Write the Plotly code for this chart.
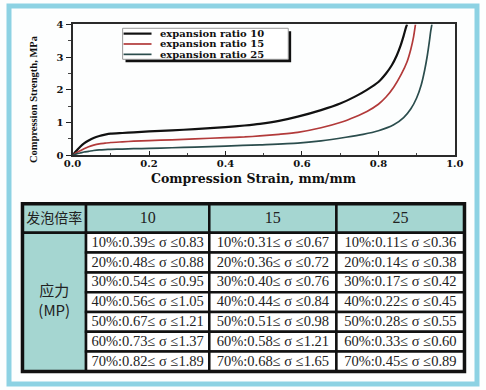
import plotly.graph_objects as go

# ---------------- data: chart ----------------
series_names = ["expansion ratio 10", "expansion ratio 15", "expansion ratio 25"]
series_colors = ["#111111", "#b23a3a", "#2b4d4d"]

strain_10 = [0, 0.005, 0.012, 0.02, 0.03, 0.042, 0.055, 0.07, 0.085, 0.10, 0.13, 0.16, 0.20, 0.26, 0.32, 0.40, 0.45,
             0.49, 0.54, 0.589, 0.65, 0.70, 0.74, 0.77, 0.80, 0.82, 0.835, 0.848, 0.858, 0.866, 0.872, 0.875]
stress_10 = [0, 0.07, 0.16, 0.26, 0.36, 0.45, 0.53, 0.59, 0.63, 0.66, 0.68, 0.70, 0.73, 0.76, 0.80, 0.86, 0.91,
             0.96, 1.05, 1.18, 1.38, 1.58, 1.80, 2.00, 2.24, 2.50, 2.75, 3.05, 3.35, 3.65, 3.90, 4.0]

strain_15 = [0, 0.005, 0.012, 0.02, 0.03, 0.042, 0.055, 0.07, 0.085, 0.10, 0.13, 0.16, 0.20, 0.26, 0.32, 0.40, 0.45,
             0.49, 0.54, 0.589, 0.65, 0.70, 0.74, 0.77, 0.80, 0.82, 0.84, 0.86, 0.875, 0.885, 0.892, 0.897]
stress_15 = [0, 0.04, 0.09, 0.14, 0.20, 0.26, 0.31, 0.35, 0.37, 0.39, 0.41, 0.43, 0.45, 0.47, 0.50, 0.54, 0.56,
             0.59, 0.64, 0.70, 0.84, 1.00, 1.18, 1.34, 1.56, 1.78, 2.08, 2.48, 2.86, 3.25, 3.62, 4.0]

strain_25 = [0, 0.005, 0.012, 0.02, 0.03, 0.042, 0.055, 0.07, 0.085, 0.10, 0.13, 0.16, 0.20, 0.26, 0.32, 0.40, 0.49,
             0.589, 0.65, 0.715, 0.76, 0.80, 0.84, 0.866, 0.885, 0.90, 0.912, 0.921, 0.928, 0.933, 0.937, 0.94]
stress_25 = [0, 0.02, 0.05, 0.07, 0.10, 0.12, 0.145, 0.165, 0.175, 0.18, 0.19, 0.20, 0.21, 0.23, 0.25, 0.28, 0.32,
             0.37, 0.44, 0.55, 0.64, 0.75, 0.93, 1.15, 1.42, 1.75, 2.15, 2.60, 3.05, 3.45, 3.80, 4.0]

x_ticks = [0, 0.2, 0.4, 0.6, 0.8, 1.0]
x_tick_labels = ["0.0", "0.2", "0.4", "0.6", "0.8", "1.0"]
y_ticks = [0, 1, 2, 3, 4]
y_tick_labels = ["0", "1", "2", "3", "4"]
x_title = "Compression Strain, mm/mm"
y_title = "Compression Strength, MPa"

# ---------------- data: table ----------------
table_header = ["发泡倍率", "10", "15", "25"]
row_label = "应力<br>(MP)"
percent_levels = ["10%", "20%", "30%", "40%", "50%", "60%", "70%"]
low_10 = [0.39, 0.48, 0.54, 0.56, 0.67, 0.73, 0.82]
high_10 = [0.83, 0.88, 0.95, 1.05, 1.21, 1.37, 1.89]
low_15 = [0.31, 0.36, 0.40, 0.44, 0.51, 0.58, 0.68]
high_15 = [0.67, 0.72, 0.76, 0.84, 0.98, 1.21, 1.65]
low_25 = [0.11, 0.14, 0.17, 0.22, 0.28, 0.33, 0.45]
high_25 = [0.36, 0.38, 0.42, 0.45, 0.55, 0.60, 0.89]

# ---------------- layout constants ----------------
W, H = 486, 390
PX0, PX1, PY0, PY1 = 66, 463, 19, 154  # chart plot area in pixels
TEAL = "#a5d6d1"
SERIF_B = "DejaVu Serif"
LINE_W = [2.2, 1.7, 1.7]

fig = go.Figure()

for xs, ys, name, col, lw in zip([strain_10, strain_15, strain_25],
                                 [stress_10, stress_15, stress_25],
                                 series_names, series_colors, LINE_W):
    fig.add_trace(go.Scatter(x=xs, y=ys, mode="lines", name=name,
                             line=dict(color=col, width=lw, shape="spline", smoothing=0.6),
                             hoverinfo="skip", showlegend=False, xaxis="x", yaxis="y"))

# ---------------- table (pixel-like axes x2/y2) ----------------
col_edges = [14, 80, 208, 340, 473]
row_edges = [204, 234] + [234 + 143 * i / 7 for i in range(1, 8)]
shapes = []


def rect(x0, y0, x1, y1, fill, lw=2.5, color="#111111", layer="below"):
    return dict(type="rect", xref="x2", yref="y2", x0=x0, y0=y0, x1=x1, y1=y1,
                fillcolor=fill, line=dict(color=color, width=lw), layer=layer)


for c in range(4):
    shapes.append(rect(col_edges[c], row_edges[0], col_edges[c + 1], row_edges[1], TEAL))
shapes.append(rect(col_edges[0], row_edges[1], col_edges[1], row_edges[-1], TEAL))
for c in range(1, 4):
    for r in range(1, 8):
        shapes.append(rect(col_edges[c], row_edges[r], col_edges[c + 1], row_edges[r + 1], "white"))
shapes.append(rect(col_edges[0], row_edges[0], col_edges[-1], row_edges[-1], "rgba(0,0,0,0)", lw=3.5))

col_centers = [(col_edges[i] + col_edges[i + 1]) / 2 for i in range(4)]
row_centers = [(row_edges[i] + row_edges[i + 1]) / 2 for i in range(8)]

fig.add_trace(go.Scatter(x=[col_centers[0]], y=[row_centers[0] + 1], text=[table_header[0]], mode="text",
                         textfont=dict(family="Noto Sans CJK SC", size=14, color="#222"),
                         xaxis="x2", yaxis="y2", hoverinfo="skip", showlegend=False))
fig.add_trace(go.Scatter(x=col_centers[1:], y=[row_centers[0] + 1] * 3, text=table_header[1:], mode="text",
                         textfont=dict(family="Liberation Serif", size=16, color="#222"),
                         xaxis="x2", yaxis="y2", hoverinfo="skip", showlegend=False))
fig.add_trace(go.Scatter(x=[col_centers[0]], y=[(row_edges[1] + row_edges[-1]) / 2], text=[row_label], mode="text",
                         textfont=dict(family="Noto Sans CJK SC", size=15, color="#222"),
                         xaxis="x2", yaxis="y2", hoverinfo="skip", showlegend=False))

cell_x, cell_y, cell_t = [], [], []
for c, (lows, highs) in enumerate([(low_10, high_10), (low_15, high_15), (low_25, high_25)], start=1):
    for r, (p, lo, hi) in enumerate(zip(percent_levels, lows, highs), start=1):
        cell_x.append(col_centers[c])
        cell_y.append(row_centers[r] + 0.5)
        cell_t.append(f"{p}:{lo:.2f}≤ σ ≤{hi:.2f}")
fig.add_trace(go.Scatter(x=cell_x, y=cell_y, text=cell_t, mode="text",
                         textfont=dict(family="Liberation Serif", size=14.5, color="#222"),
                         xaxis="x2", yaxis="y2", hoverinfo="skip", showlegend=False))

# ---------------- manual legend ----------------
LX0, LY0, LX1, LY1 = 118, 23, 290, 55
shapes.append(rect(LX0 + 3, LY0 + 3, LX1 + 3, LY1 + 3, "#111111", lw=0, layer="above"))
shapes.append(rect(LX0, LY0, LX1, LY1, "white", lw=1, color="#999999", layer="above"))
legend_rows = [28.5, 39.2, 49.9]
annotations = []
for name, col, ly, lw in zip(series_names, series_colors, legend_rows, LINE_W):
    shapes.append(dict(type="line", xref="x2", yref="y2", x0=LX0 + 1, x1=LX0 + 30, y0=ly, y1=ly,
                       line=dict(color=col, width=lw), layer="above"))
    annotations.append(dict(x=LX0 + 37, y=ly, xref="x2", yref="y2", text=name, showarrow=False,
                            xanchor="left", yanchor="middle",
                            font=dict(family=SERIF_B, size=10, color="#111", weight="bold")))

annotations.append(dict(x=254, y=177.5, xref="x2", yref="y2", text=x_title, showarrow=False,
                        xanchor="center", yanchor="middle",
                        font=dict(family=SERIF_B, size=12.5, color="#111", weight="bold")))
annotations.append(dict(x=25, y=96, xref="x2", yref="y2", text=y_title, showarrow=False, textangle=-90,
                        xanchor="center", yanchor="middle",
                        font=dict(family="Liberation Serif", size=10.5, color="#111", weight="bold")))

shapes.append(dict(type="rect", xref="paper", yref="paper", x0=0, y0=0, x1=1, y1=1,
                   line=dict(color="#8dd2e3", width=5), fillcolor="rgba(0,0,0,0)", layer="above"))

tickfont = dict(family=SERIF_B, size=10, color="#111", weight="bold")
fig.update_layout(
    width=W, height=H, autosize=False,
    margin=dict(l=0, r=0, t=0, b=0),
    paper_bgcolor="#fdfefe", plot_bgcolor="rgba(0,0,0,0)",
    xaxis=dict(domain=[PX0 / W, PX1 / W], anchor="y", range=[0, 1], tickvals=x_ticks, ticktext=x_tick_labels,
               ticks="inside", ticklen=4, tickwidth=1.2, tickcolor="#222", ticklabelstandoff=-2,
               minor=dict(dtick=0.1, ticks="inside", ticklen=2, tickcolor="#444"),
               showgrid=False, zeroline=False, showline=True, linewidth=2, linecolor="#2a2a2a",
               mirror=True, tickfont=tickfont, fixedrange=True),
    yaxis=dict(domain=[1 - PY1 / H, 1 - PY0 / H], anchor="x", range=[0, 4], tickvals=y_ticks,
               ticktext=y_tick_labels, ticks="outside", ticklen=5, tickwidth=1.2, tickcolor="#222",
               minor=dict(dtick=0.5, ticks="outside", ticklen=3, tickcolor="#444"),
               showgrid=False, zeroline=False, showline=True, linewidth=2, linecolor="#2a2a2a",
               mirror=True, tickfont=tickfont, fixedrange=True),
    xaxis2=dict(domain=[0, 1], anchor="y2", range=[0, W], visible=False, fixedrange=True),
    yaxis2=dict(domain=[0, 1], anchor="x2", range=[H, 0], visible=False, fixedrange=True),
    shapes=shapes, annotations=annotations, showlegend=False,
)

fig.write_html("out.html", config={"displayModeBar": False},
               post_script="document.body.style.margin='0';")
